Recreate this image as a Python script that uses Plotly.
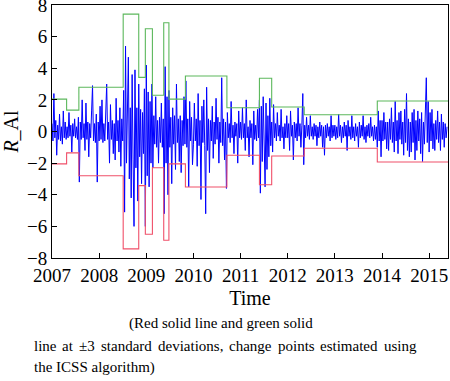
import plotly.graph_objects as go

# ---- data ----
T0 = 2007.0
DT = 0.02  # sampling step in years for the return series

returns = [
    # 2007
    0.5, -0.6, 2.4, -0.4, 0.7, -1.5, 0.4, -0.5, 1.1, -0.6, 0.3, -0.8, 1.3, -0.4, 0.6, -0.5,
    0.3, -0.4, 1.2, -0.3, 0.4, -1.3, 0.5, -0.3, 0.8, -0.4, 0.3, -0.5, 0.9,
    -3.2, 0.6, -0.5, 2.0, -0.4, 0.5, -1.2, 1.8, -0.5, 0.6, -1.6, 0.5, -0.4, 1.3, 2.9, -0.6,
    0.5, -0.7, 1.1, -3.2, 0.6,
    # 2008
    -0.6, 1.6, -0.5, 2.0, -0.7, 0.5, -0.6, 1.3, 3.0, -0.5, 0.6, -2.0, 1.7, -0.5, 0.7, -1.4,
    0.5, -1.8, 2.1, -0.6, 0.7, -1.3, 1.5, -2.2, 0.8, -0.6,
    2.6, -5.1, 5.4, -2.0, 1.8, 4.7, -3.0, 1.5, -4.2, 3.6, -1.8, -6.0, 3.9, -2.3, 1.5, -4.4,
    3.0, -1.6, 1.4, -3.3, 1.2, -1.4, 2.7,
    -6.0,
    # 2009
    4.2, -2.8, 2.5, -3.5, 1.9, -2.0, 3.0,
    -2.3, 1.0, -0.8, 2.2, -1.0, 0.7, -2.0, 0.9, -0.7, 1.8, -1.0, 0.8,
    -5.2, 4.1, -2.0, 2.2, -4.0,
    2.6, -1.0, 0.9, -3.3, 1.5, -0.8, 1.0, -2.4, 3.0, -0.7, 0.8, -1.9, 1.0, -2.6, 0.7, -0.9,
    2.2, -0.8,
    3.2, -1.0, 0.8, -3.5, 1.9, -0.6, 0.9, -2.1,
    # 2010
    -0.8, 1.8, -0.6, 0.8, -2.2, 2.4, -0.9, 0.7, -4.3, 1.6, -0.7, 2.0, -0.9, -5.2, 2.8, -1.2,
    0.8, -2.6, 0.7, -0.6, 1.6, -1.7, 0.6, -0.8, 2.1, -0.5, 0.9, -2.0, 0.6, -0.7, 3.4, -0.9,
    0.8, -1.8, 0.6, -3.6,
    1.2, -0.4, 0.5, -0.7, 1.9, -0.4, 0.4, -1.4, 0.6, -0.3, 0.5, -2.0, 1.3, -0.4,
    # 2011
    0.6, -0.5, 1.5, -0.4, 0.5, -1.2, 2.0, -0.4, 0.3, -1.6, 0.7, -0.4, 0.5, -2.1, 1.3, -0.5,
    0.4, -0.6, 1.4, -0.4,
    2.0, -3.9, 1.6, -1.9, 2.2, -0.8, -3.5, 1.8, -2.4, 1.0, -1.6, 2.1, -0.9,
    0.6, -1.3, 1.7, -0.4, 0.5, -0.6, 1.2, -0.3, 0.4, -0.6, 1.4, -0.4, 0.3, -1.1, 0.5, -0.4,
    1.0,
    # 2012
    -0.4, 0.5, -1.2, 1.3, -0.3, 0.4, -1.8, 0.6, -0.4, 0.5, -0.6, 1.5, -0.3, 0.5, -1.0, 0.4,
    2.4, -2.1,
    0.4, -0.4, 0.9, -0.3, 0.4, -0.5, 1.0, -0.3, 0.3, -0.5, 0.5, -0.3, 0.4, -0.9, 0.3, -0.4,
    0.6, -0.3, 0.4, -1.0, 0.3, -1.5, 0.4, -0.4, 0.5, -0.3, 0.3, -0.6, 1.0, -0.4, 0.4, -0.3,
    # 2013
    0.4, -0.5, 0.3, -0.4, 1.1, -0.3, 0.4, -0.7, 0.3, -0.4, 0.6, -0.3, 0.4, -1.2, 0.7, -0.3,
    0.3, -0.5, 1.0, -0.4, 0.3, -0.6, 0.5, -0.3, 0.3, -1.0, 0.6, -0.4, 0.4, -0.3, 1.0, -0.5,
    0.3, -0.7, 0.4, -0.3, 0.5, -0.4, 0.9, -0.3, 0.3, -0.6, 0.4, -0.5, 0.3,
    -1.0, 1.3, -0.6, 0.7, -1.6,
    # 2014
    0.7, -0.6, 1.2, -0.5, 0.6, -1.1, 0.6, -1.2, 0.8, -0.5, 1.5, -0.7, 0.6, -1.3, 1.9, -0.6,
    0.7, -1.4, 1.2, -0.5, 1.3, -0.8, 0.6, -1.5, 1.4, -0.7, 2.4, -1.2, 0.8, -1.6, 0.6, -1.3,
    1.2, -0.7, 1.4, -1.8, 0.7, -1.2, 1.3, -0.6, 0.8, -1.4, 1.2, -1.9, 0.6, -0.8, 1.3, 3.4,
    -0.7, 1.9,
    # 2015
    -1.3, 1.2, -0.6, 1.4, -1.1, 0.5, -1.2, 0.7, -0.5, 1.3, -0.7, 0.6, -1.2, 1.1, -0.5, 0.6,
    -1.0, 0.5, -0.4, 0.3,
]

change_points = [2007.0, 2007.31, 2007.57, 2008.51, 2008.84, 2008.98, 2009.13,
                 2009.37, 2009.48, 2009.83, 2010.71, 2011.40, 2011.66, 2012.35,
                 2013.90, 2015.4]
upper_band = [2.05, 1.35, 2.80, 7.42, 3.42, 6.50, 2.29, 6.88, 2.05, 3.51,
              1.50, 3.37, 1.55, 1.06, 1.93]
lower_band = [-2.05, -1.35, -2.80, -7.42, -3.42, -6.50, -2.29, -6.88, -2.05, -3.51,
              -1.50, -3.37, -1.55, -1.06, -1.93]

year_ticks = [2007, 2008, 2009, 2010, 2011, 2012, 2013, 2014, 2015]
y_ticks = [-8, -6, -4, -2, 0, 2, 4, 6, 8]

caption_line1 = "(Red solid line and green solid"
caption_line2_words = ["line", "at", "±3", "standard", "deviations,", "change",
                       "points", "estimated", "using"]
caption_line3 = "the ICSS algorithm)"

# ---- figure ----
times = [T0 + DT * i for i in range(len(returns))]

FONT = "Liberation Serif, Times New Roman, serif"

fig = go.Figure()
fig.add_trace(go.Scatter(x=times, y=returns, mode="lines",
                         line=dict(color="rgb(0,0,255)", width=1),
                         hoverinfo="skip"))
fig.add_trace(go.Scatter(x=change_points, y=upper_band + [upper_band[-1]],
                         mode="lines", line=dict(color="#5cb85c", width=1.1, shape="hv"),
                         hoverinfo="skip"))
fig.add_trace(go.Scatter(x=change_points, y=lower_band + [lower_band[-1]],
                         mode="lines", line=dict(color="#f0506a", width=1.1, shape="hv"),
                         hoverinfo="skip"))

W, H = 450, 381
L, R, T, B = 52, 2, 5, 123
PW, PH = W - L - R, H - T - B


def px_to_paper(px, py):
    return (px - L) / PW, (H - B - py) / PH


CAP = 15
annotations = []
x1, y1 = px_to_paper(221, 323)
annotations.append(dict(text=caption_line1, x=x1, y=y1, xref="paper", yref="paper",
                        xanchor="center", yanchor="middle", showarrow=False,
                        font=dict(family=FONT, size=CAP, color="black")))
word_x = [31.7, 60.2, 77.0, 99.0, 155.8, 227.2, 275.7, 318.4, 381.9]
for w, wx in zip(caption_line2_words, word_x):
    xx, yy = px_to_paper(wx, 346)
    annotations.append(dict(text=w, x=xx, y=yy, xref="paper", yref="paper",
                            xanchor="left", yanchor="middle", showarrow=False,
                            font=dict(family=FONT, size=CAP, color="black")))
x3, y3 = px_to_paper(31.7, 367)
annotations.append(dict(text=caption_line3, x=x3, y=y3, xref="paper", yref="paper",
                        xanchor="left", yanchor="middle", showarrow=False,
                        font=dict(family=FONT, size=CAP, color="black")))

fig.update_layout(
    template="none",
    width=W, height=H,
    margin=dict(l=L, r=R, t=T, b=B, autoexpand=False),
    paper_bgcolor="white", plot_bgcolor="white",
    showlegend=False,
    font=dict(family=FONT, size=19, color="black"),
    annotations=annotations,
)
fig.update_xaxes(range=[2007, 2015.4], tickvals=year_ticks,
                 ticktext=[str(y) for y in year_ticks],
                 ticks="inside", ticklen=5, tickcolor="black",
                 showline=True, linecolor="black", linewidth=1, mirror=True,
                 showgrid=False, zeroline=False, automargin=False,
                 ticklabeloverflow="allow",
                 tickfont=dict(family=FONT, size=19),
                 title=dict(text="Time", font=dict(family=FONT, size=20), standoff=6))
fig.update_yaxes(range=[-8, 8], tickvals=y_ticks,
                 ticks="inside", ticklen=5, tickcolor="black",
                 showline=True, linecolor="black", linewidth=1, mirror=True,
                 showgrid=False, zeroline=False, automargin=False,
                 ticklabeloverflow="allow",
                 tickfont=dict(family=FONT, size=19),
                 title=dict(text="<i>R</i>_Al", font=dict(family=FONT, size=20), standoff=5))

fig.write_html("out.html", config={"displayModeBar": False},
               post_script="document.body.style.margin='0';document.body.style.overflow='hidden';")
